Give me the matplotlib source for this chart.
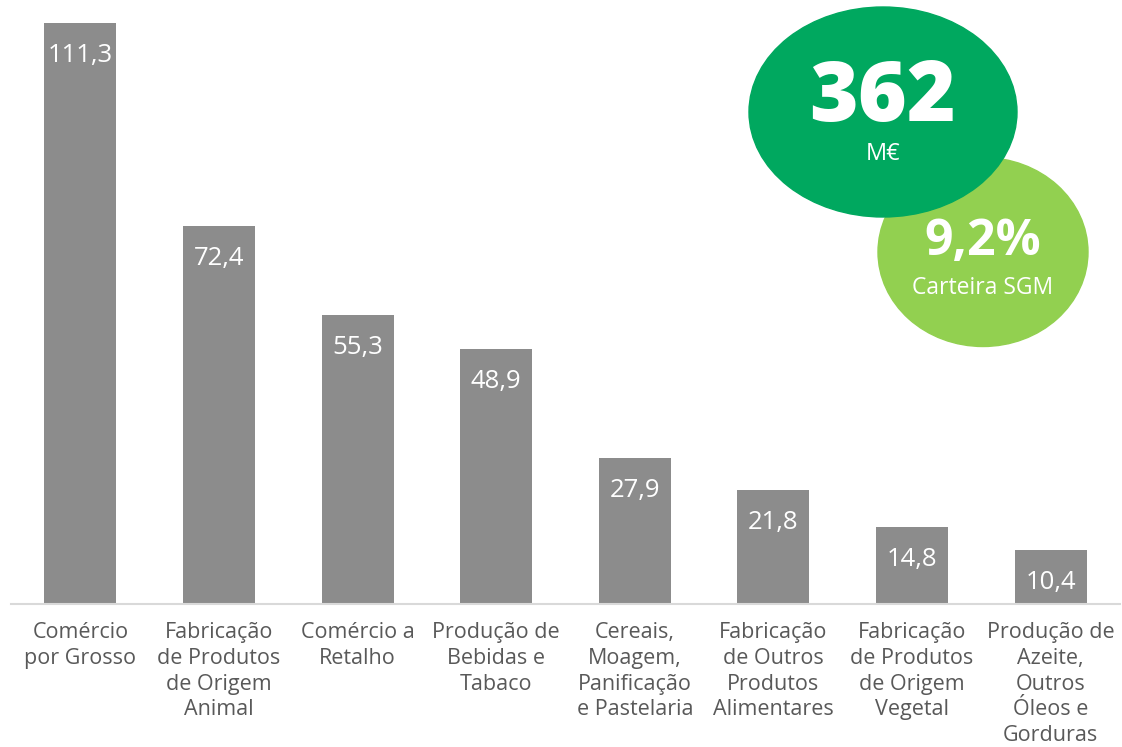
import matplotlib.pyplot as plt
from matplotlib.patches import Ellipse

# Data
categories = [
    "Comércio\npor Grosso",
    "Fabricação\nde Produtos\nde Origem\nAnimal",
    "Comércio a\nRetalho",
    "Produção de\nBebidas e\nTabaco",
    "Cereais,\nMoagem,\nPanificação\ne Pastelaria",
    "Fabricação\nde Outros\nProdutos\nAlimentares",
    "Fabricação\nde Produtos\nde Origem\nVegetal",
    "Produção de\nAzeite,\nOutros\nÓleos e\nGorduras",
]
values = [111.3, 72.4, 55.3, 48.9, 27.9, 21.8, 14.8, 10.4]
total_label = "362"
total_unit = "M€"
share_label = "9,2%"
share_caption = "Carteira SGM"

plt.rcParams["font.family"] = ["Open Sans", "DejaVu Sans"]

W, H = 1122, 747
fig = plt.figure(figsize=(W / 100, H / 100), dpi=100)
ax = fig.add_axes([11 / W, (H - 604) / H, 1109 / W, 604 / H])

x = range(len(values))
bars = ax.bar(x, values, width=0.52, color="#8c8c8c")
ax.set_xlim(-0.5, len(values) - 0.5)
ax.set_ylim(0, 115.7)

for b, v in zip(bars, values):
    ax.text(
        b.get_x() + b.get_width() / 2,
        v - 3.8,
        f"{v:.1f}".replace(".", ","),
        ha="center",
        va="top",
        color="white",
        fontsize=18.5,
    )

for s in ["top", "right", "left"]:
    ax.spines[s].set_visible(False)
ax.spines["bottom"].set_color("#d9d9d9")
ax.spines["bottom"].set_linewidth(1.5)
ax.set_yticks([])
ax.set_xticks(list(x))
ax.set_xticklabels(categories, fontsize=15.5, color="#595959", linespacing=1.3)
ax.tick_params(axis="x", length=0, pad=13)

# Overlay for the highlight bubbles (pixel coordinates)
ov = fig.add_axes([0, 0, 1, 1])
ov.set_xlim(0, W)
ov.set_ylim(H, 0)
ov.axis("off")
ov.add_patch(Ellipse((983, 252), 210, 189, color="#92d050"))
ov.add_patch(Ellipse((883, 112), 268, 210, color="#00a85f"))
ov.text(883, 121, total_label, ha="center", va="baseline", color="white",
        fontsize=60, fontweight="heavy")
ov.text(883, 160, total_unit, ha="center", va="baseline", color="white",
        fontsize=17)
ov.text(983, 242, share_label, ha="center", va="center", color="white",
        fontsize=36, fontweight="bold")
ov.text(983, 288, share_caption, ha="center", va="center", color="white",
        fontsize=16.5)

fig.savefig("out.png", dpi=100)
